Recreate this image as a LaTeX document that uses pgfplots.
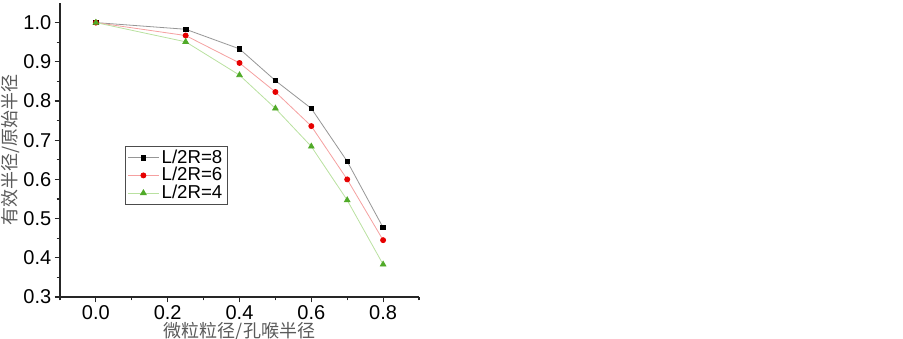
\documentclass[border=0pt]{standalone}
\usepackage{pgfplots}
\pgfplotsset{compat=1.18}
\usepackage{fontspec}
\setmainfont{Liberation Sans}
\newfontfamily\cjk{Noto Sans CJK SC}
\definecolor{lgray}{RGB}{150,150,150}
\definecolor{lred}{RGB}{245,160,160}
\definecolor{lgreen}{RGB}{185,225,160}
\definecolor{mred}{RGB}{230,0,0}
\definecolor{mgreen}{RGB}{80,170,40}
\definecolor{labgray}{RGB}{90,90,90}
\begin{document}
\begin{tikzpicture}
\useasboundingbox (0,0) rectangle (677.25pt,254.25pt);
\begin{axis}[
  at={(45pt,31.5pt)}, anchor=south west,
  scale only axis, width=269.25pt, height=220.5pt,
  xmin=-0.1, xmax=0.9, ymin=0.3, ymax=1.05,
  axis lines=left, axis line style={-, line width=0.9pt, black!85},
  xtick={0,0.2,0.4,0.6,0.8}, minor xtick={-0.1,0.1,0.3,0.5,0.7,0.9},
  ytick={0.3,0.4,0.5,0.6,0.7,0.8,0.9,1.0}, minor ytick={0.35,0.45,0.55,0.65,0.75,0.85,0.95},
  tick align=outside,
  major tick length=4pt, minor tick length=2.5pt,
  tick style={black!85, line width=0.8pt},
  /pgf/number format/assume math mode=true,
  tick label style={font=\fontsize{15}{16}\selectfont},
  xticklabel style={yshift=1.5pt, /pgf/number format/.cd, fixed, fixed zerofill, precision=1},
  yticklabel style={xshift=1pt, /pgf/number format/.cd, fixed, fixed zerofill, precision=1},
  xlabel={\cjk 微粒粒径/孔喉半径},
  ylabel={\cjk 有效半径/原始半径},
  label style={font=\fontsize{13.5}{15}\selectfont, text=labgray},
  xlabel style={yshift=4.5pt},
  ylabel style={yshift=-4pt},
  legend style={at={(axis cs:0.08,0.685)}, anchor=north west,
    draw=black!70, line width=0.8pt, font=\fontsize{14}{14}\selectfont,
    inner xsep=2pt, inner ysep=1.8pt,
    nodes={inner ysep=0.6pt, text height=10pt, text depth=2pt}},
  legend cell align=left,
  legend image code/.code={\draw[mark repeat=2,mark phase=2] plot coordinates {(0cm,0cm)(0.4cm,0cm)(0.8cm,0cm)};},
]
\addplot[lgray, line width=0.6pt, mark=square*, mark size=1.7pt, mark options={black, fill=black}]
  coordinates {(0,1.0)(0.25,0.983)(0.4,0.933)(0.5,0.852)(0.6,0.781)(0.7,0.646)(0.8,0.477)};
\addlegendentry{L/2R=8}
\addplot[lred, line width=0.6pt, mark=*, mark size=1.9pt, mark options={mred, fill=mred}]
  coordinates {(0,1.0)(0.25,0.967)(0.4,0.897)(0.5,0.823)(0.6,0.736)(0.7,0.600)(0.8,0.445)};
\addlegendentry{L/2R=6}
\addplot[lgreen, line width=0.6pt, mark=triangle*, mark size=2.4pt, mark options={mgreen, fill=mgreen}]
  coordinates {(0,1.0)(0.25,0.951)(0.4,0.866)(0.5,0.781)(0.6,0.684)(0.7,0.547)(0.8,0.383)};
\addlegendentry{L/2R=4}
\end{axis}
\end{tikzpicture}
\end{document}
